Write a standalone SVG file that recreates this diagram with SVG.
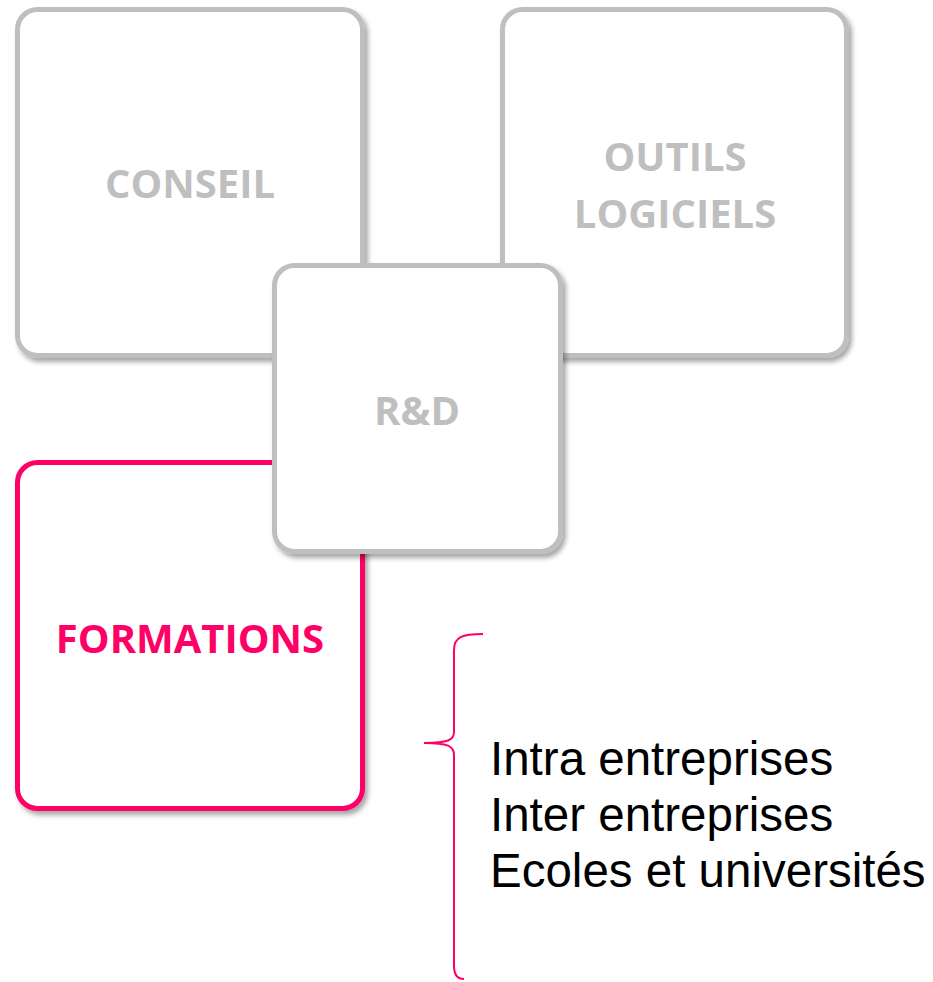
<svg xmlns="http://www.w3.org/2000/svg" width="933" height="982" viewBox="0 0 933 982">
  <defs>
    <filter id="shadow" x="-10%" y="-10%" width="125%" height="125%">
      <feDropShadow dx="3" dy="4" stdDeviation="2.5" flood-color="#000000" flood-opacity="0.35"/>
    </filter>
    <style>
      .box { fill: #FFFFFF; stroke: #BFBFBF; stroke-width: 5; filter: url(#shadow); }
      .box.active { stroke: #FF0066; }
      .label { font-family: "Open Sans", "Liberation Sans", sans-serif; font-weight: bold; font-size: 40px; fill: #BFBFBF; text-anchor: middle; }
      .label.active { fill: #FF0066; }
      .brace { fill: none; stroke: #FF0066; stroke-width: 2; }
      .item { font-family: "Liberation Sans", Arial, sans-serif; font-size: 47.5px; fill: #000000; }
    </style>
  </defs>
  <rect width="933" height="982" fill="#FFFFFF"/>

  <g id="conseil">
    <rect class="box" x="17.5" y="9.5" width="345" height="346" rx="20" ry="20"/>
    <text class="label" x="190" y="198">CONSEIL</text>
  </g>

  <g id="outils-logiciels">
    <rect class="box" x="502.5" y="9.5" width="344" height="346" rx="20" ry="20"/>
    <text class="label" x="675" y="171">OUTILS</text>
    <text class="label" x="675" y="228">LOGICIELS</text>
  </g>

  <g id="formations">
    <rect class="box active" x="17.5" y="462.5" width="345" height="346" rx="20" ry="20"/>
    <text class="label active" x="190" y="653">FORMATIONS</text>
  </g>

  <g id="rd">
    <rect class="box" x="274.5" y="265.5" width="286" height="286" rx="20" ry="20"/>
    <text class="label" x="417" y="425">R&amp;D</text>
  </g>

  <g id="connectors">
    <path class="brace" d="M483,634 C462,634 454,637 454,650 L454,732 C454,740 448,743 424,743 C448,743 454,746 454,755 L454,966 C454,975 457,979 464,979"/>
  </g>

  <g id="formations-list">
    <text class="item" x="490" y="775">Intra entreprises</text>
    <text class="item" x="490" y="831">Inter entreprises</text>
    <text class="item" x="490" y="887">Ecoles et universités</text>
  </g>
</svg>
